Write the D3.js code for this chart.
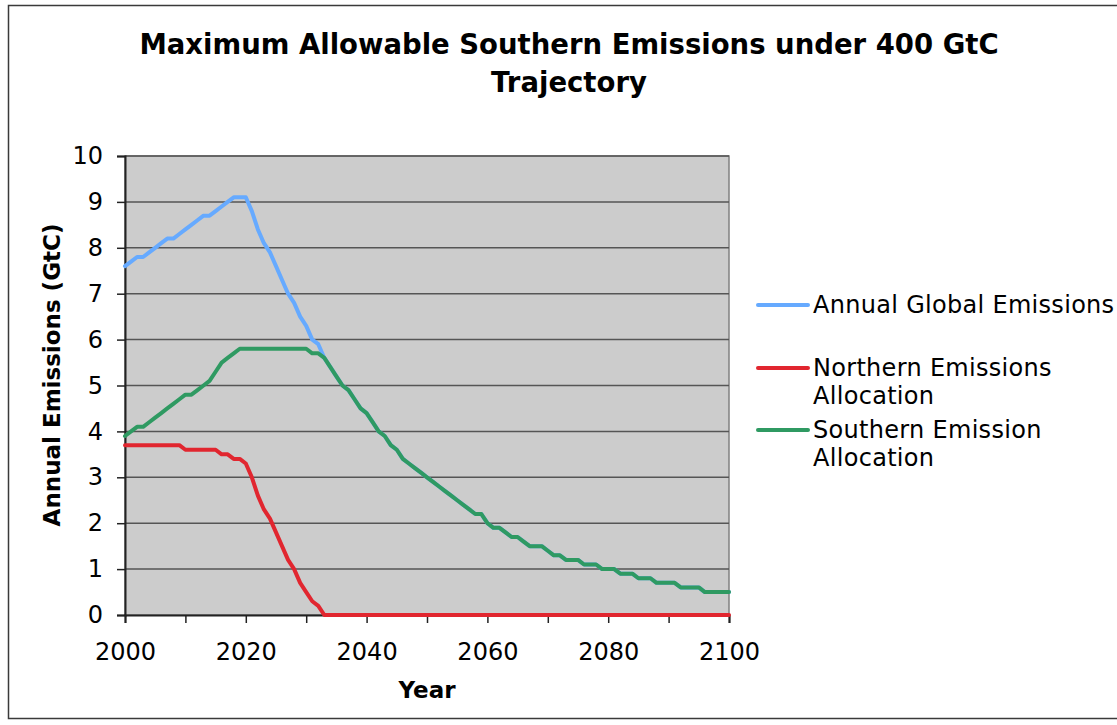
<!DOCTYPE html>
<html>
<head>
<meta charset="utf-8">
<script src="https://cdn.jsdelivr.net/npm/d3@7"></script>
<style>
  html, body { margin: 0; padding: 0; background: #ffffff; }
  #chart { width: 1117px; height: 725px; }
  text { font-family: 'DejaVu Sans', Verdana, sans-serif; fill: #000000; }
</style>
</head>
<body>
<div id="chart"></div>
<script>
  var years = [
    2000, 2001, 2002, 2003, 2004, 2005, 2006, 2007, 2008, 2009,
    2010, 2011, 2012, 2013, 2014, 2015, 2016, 2017, 2018, 2019,
    2020, 2021, 2022, 2023, 2024, 2025, 2026, 2027, 2028, 2029,
    2030, 2031, 2032, 2033, 2034, 2035, 2036, 2037, 2038, 2039,
    2040, 2041, 2042, 2043, 2044, 2045, 2046, 2047, 2048, 2049,
    2050, 2051, 2052, 2053, 2054, 2055, 2056, 2057, 2058, 2059,
    2060, 2061, 2062, 2063, 2064, 2065, 2066, 2067, 2068, 2069,
    2070, 2071, 2072, 2073, 2074, 2075, 2076, 2077, 2078, 2079,
    2080, 2081, 2082, 2083, 2084, 2085, 2086, 2087, 2088, 2089,
    2090, 2091, 2092, 2093, 2094, 2095, 2096, 2097, 2098, 2099,
    2100
  ];

  var globalEmissions = [
    7.6, 7.7, 7.8, 7.8, 7.9, 8.0, 8.1, 8.2, 8.2, 8.3,
    8.4, 8.5, 8.6, 8.7, 8.7, 8.8, 8.9, 9.0, 9.1, 9.1,
    9.1, 8.8, 8.4, 8.1, 7.9, 7.6, 7.3, 7.0, 6.8, 6.5,
    6.3, 6.0, 5.9, 5.6, 5.4, 5.2, 5.0, 4.9, 4.7, 4.5,
    4.4, 4.2, 4.0, 3.9, 3.7, 3.6, 3.4, 3.3, 3.2, 3.1,
    3.0, 2.9, 2.8, 2.7, 2.6, 2.5, 2.4, 2.3, 2.2, 2.2,
    2.0, 1.9, 1.9, 1.8, 1.7, 1.7, 1.6, 1.5, 1.5, 1.5,
    1.4, 1.3, 1.3, 1.2, 1.2, 1.2, 1.1, 1.1, 1.1, 1.0,
    1.0, 1.0, 0.9, 0.9, 0.9, 0.8, 0.8, 0.8, 0.7, 0.7,
    0.7, 0.7, 0.6, 0.6, 0.6, 0.6, 0.5, 0.5, 0.5, 0.5,
    0.5
  ];

  var northernAllocation = [
    3.7, 3.7, 3.7, 3.7, 3.7, 3.7, 3.7, 3.7, 3.7, 3.7,
    3.6, 3.6, 3.6, 3.6, 3.6, 3.6, 3.5, 3.5, 3.4, 3.4,
    3.3, 3.0, 2.6, 2.3, 2.1, 1.8, 1.5, 1.2, 1.0, 0.7,
    0.5, 0.3, 0.2, 0, 0, 0, 0, 0, 0, 0,
    0, 0, 0, 0, 0, 0, 0, 0, 0, 0,
    0, 0, 0, 0, 0, 0, 0, 0, 0, 0,
    0, 0, 0, 0, 0, 0, 0, 0, 0, 0,
    0, 0, 0, 0, 0, 0, 0, 0, 0, 0,
    0, 0, 0, 0, 0, 0, 0, 0, 0, 0,
    0, 0, 0, 0, 0, 0, 0, 0, 0, 0,
    0
  ];

  var southernAllocation = [
    3.9, 4.0, 4.1, 4.1, 4.2, 4.3, 4.4, 4.5, 4.6, 4.7,
    4.8, 4.8, 4.9, 5.0, 5.1, 5.3, 5.5, 5.6, 5.7, 5.8,
    5.8, 5.8, 5.8, 5.8, 5.8, 5.8, 5.8, 5.8, 5.8, 5.8,
    5.8, 5.7, 5.7, 5.6, 5.4, 5.2, 5.0, 4.9, 4.7, 4.5,
    4.4, 4.2, 4.0, 3.9, 3.7, 3.6, 3.4, 3.3, 3.2, 3.1,
    3.0, 2.9, 2.8, 2.7, 2.6, 2.5, 2.4, 2.3, 2.2, 2.2,
    2.0, 1.9, 1.9, 1.8, 1.7, 1.7, 1.6, 1.5, 1.5, 1.5,
    1.4, 1.3, 1.3, 1.2, 1.2, 1.2, 1.1, 1.1, 1.1, 1.0,
    1.0, 1.0, 0.9, 0.9, 0.9, 0.8, 0.8, 0.8, 0.7, 0.7,
    0.7, 0.7, 0.6, 0.6, 0.6, 0.6, 0.5, 0.5, 0.5, 0.5,
    0.5
  ];

  var seriesNames = [
    ['Annual Global Emissions'],
    ['Northern Emissions', 'Allocation'],
    ['Southern Emission', 'Allocation']
  ];
  var seriesColors = ['#66aaff', '#e1262f', '#2f9a62'];

  var xTickLabels = [2000, 2020, 2040, 2060, 2080, 2100];
  var xMinorTicks = [2000, 2010, 2020, 2030, 2040, 2050, 2060, 2070, 2080, 2090, 2100];
  var yTickLabels = [0, 1, 2, 3, 4, 5, 6, 7, 8, 9, 10];

  var titleLines = ['Maximum Allowable Southern Emissions under 400 GtC', 'Trajectory'];

  function createChart() {
    var width = 1117;
    var height = 725;
    var plot = { left: 125, right: 729, top: 156, bottom: 615 };

    var svg = d3.select('#chart')
      .append('svg')
      .attr('width', width)
      .attr('height', height);

    // chart frame
    svg.append('rect')
      .attr('x', 8.5)
      .attr('y', 5.5)
      .attr('width', 1130)
      .attr('height', 713)
      .attr('fill', '#ffffff')
      .attr('stroke', '#3a3a3a')
      .attr('stroke-width', 1.5);

    var x = d3.scaleLinear().domain([2000, 2100]).range([plot.left, plot.right]);
    var y = d3.scaleLinear().domain([0, 10]).range([plot.bottom, plot.top]);

    svg.append('rect')
      .attr('x', plot.left)
      .attr('y', plot.top)
      .attr('width', plot.right - plot.left)
      .attr('height', plot.bottom - plot.top)
      .attr('fill', '#cccccc')
      .attr('stroke', '#808080')
      .attr('stroke-width', 1.5);

    // gridlines
    svg.append('g')
      .selectAll('line')
      .data(yTickLabels.slice(1))
      .enter()
      .append('line')
      .attr('x1', plot.left)
      .attr('x2', plot.right)
      .attr('y1', function (d) { return y(d); })
      .attr('y2', function (d) { return y(d); })
      .attr('stroke', '#555555')
      .attr('stroke-width', 1.5);

    // y axis
    var yAxis = svg.append('g')
      .attr('transform', 'translate(' + plot.left + ',0)')
      .call(d3.axisLeft(y).tickValues(yTickLabels).tickSize(8).tickPadding(14).tickFormat(d3.format('d')));
    yAxis.select('.domain').attr('stroke', '#222222').attr('stroke-width', 2);
    yAxis.selectAll('.tick line').attr('stroke', '#222222').attr('stroke-width', 1.5);
    yAxis.selectAll('text')
      .style('font-size', '24px')
      .style('font-family', "'DejaVu Sans', Verdana, sans-serif")
      .attr('fill', '#000000');

    // x axis: ticks every 10 years, labels every 20
    var xAxis = svg.append('g')
      .attr('transform', 'translate(0,' + plot.bottom + ')')
      .call(d3.axisBottom(x).tickValues(xMinorTicks).tickSize(8).tickPadding(20)
        .tickFormat(function (d) { return xTickLabels.indexOf(d) >= 0 ? d : ''; }));
    xAxis.select('.domain').attr('stroke', '#222222').attr('stroke-width', 2);
    xAxis.selectAll('.tick line').attr('stroke', '#222222').attr('stroke-width', 1.5);
    xAxis.selectAll('text')
      .style('font-size', '24px')
      .style('font-family', "'DejaVu Sans', Verdana, sans-serif")
      .attr('fill', '#000000');

    // series lines, southern drawn last so it sits on top
    var allSeries = [globalEmissions, northernAllocation, southernAllocation];
    var line = d3.line()
      .x(function (d, i) { return x(years[i]); })
      .y(function (d) { return y(d); });

    svg.append('g')
      .selectAll('path')
      .data(allSeries)
      .enter()
      .append('path')
      .attr('d', line)
      .attr('fill', 'none')
      .attr('stroke', function (d, i) { return seriesColors[i]; })
      .attr('stroke-width', 4)
      .attr('stroke-linejoin', 'round')
      .attr('stroke-linecap', 'round');

    // title
    svg.append('text')
      .attr('x', 569)
      .attr('y', 54)
      .attr('text-anchor', 'middle')
      .style('font-size', '27.5px')
      .style('font-weight', 'bold')
      .selectAll('tspan')
      .data(titleLines)
      .enter()
      .append('tspan')
      .attr('x', 569)
      .attr('dy', function (d, i) { return i === 0 ? 0 : 38; })
      .text(function (d) { return d; });

    // axis titles
    svg.append('text')
      .attr('transform', 'translate(52,375) rotate(-90)')
      .attr('text-anchor', 'middle')
      .attr('dy', '0.35em')
      .style('font-size', '23px')
      .style('font-weight', 'bold')
      .text('Annual Emissions (GtC)');

    svg.append('text')
      .attr('x', (plot.left + plot.right) / 2)
      .attr('y', 698)
      .attr('text-anchor', 'middle')
      .style('font-size', '23px')
      .style('font-weight', 'bold')
      .text('Year');

    // legend
    var legendRows = [305, 368, 430];
    var items = svg.append('g')
      .selectAll('g')
      .data(seriesNames)
      .enter()
      .append('g')
      .attr('transform', function (d, i) { return 'translate(758,' + legendRows[i] + ')'; });

    items.append('line')
      .attr('x1', 0)
      .attr('x2', 50)
      .attr('y1', 0)
      .attr('y2', 0)
      .attr('stroke', function (d, i) { return seriesColors[i]; })
      .attr('stroke-width', 4)
      .attr('stroke-linecap', 'round');

    items.append('text')
      .attr('x', 55)
      .attr('y', 0)
      .style('font-size', '24px')
      .style('letter-spacing', '0.3px')
      .selectAll('tspan')
      .data(function (d) { return d; })
      .enter()
      .append('tspan')
      .attr('x', 55)
      .attr('dy', function (d, i) { return i === 0 ? '0.35em' : 28; })
      .text(function (d) { return d; });
  }

  if (document.readyState === 'complete') {
    createChart();
  } else {
    window.addEventListener('load', createChart);
  }
</script>
</body>
</html>
